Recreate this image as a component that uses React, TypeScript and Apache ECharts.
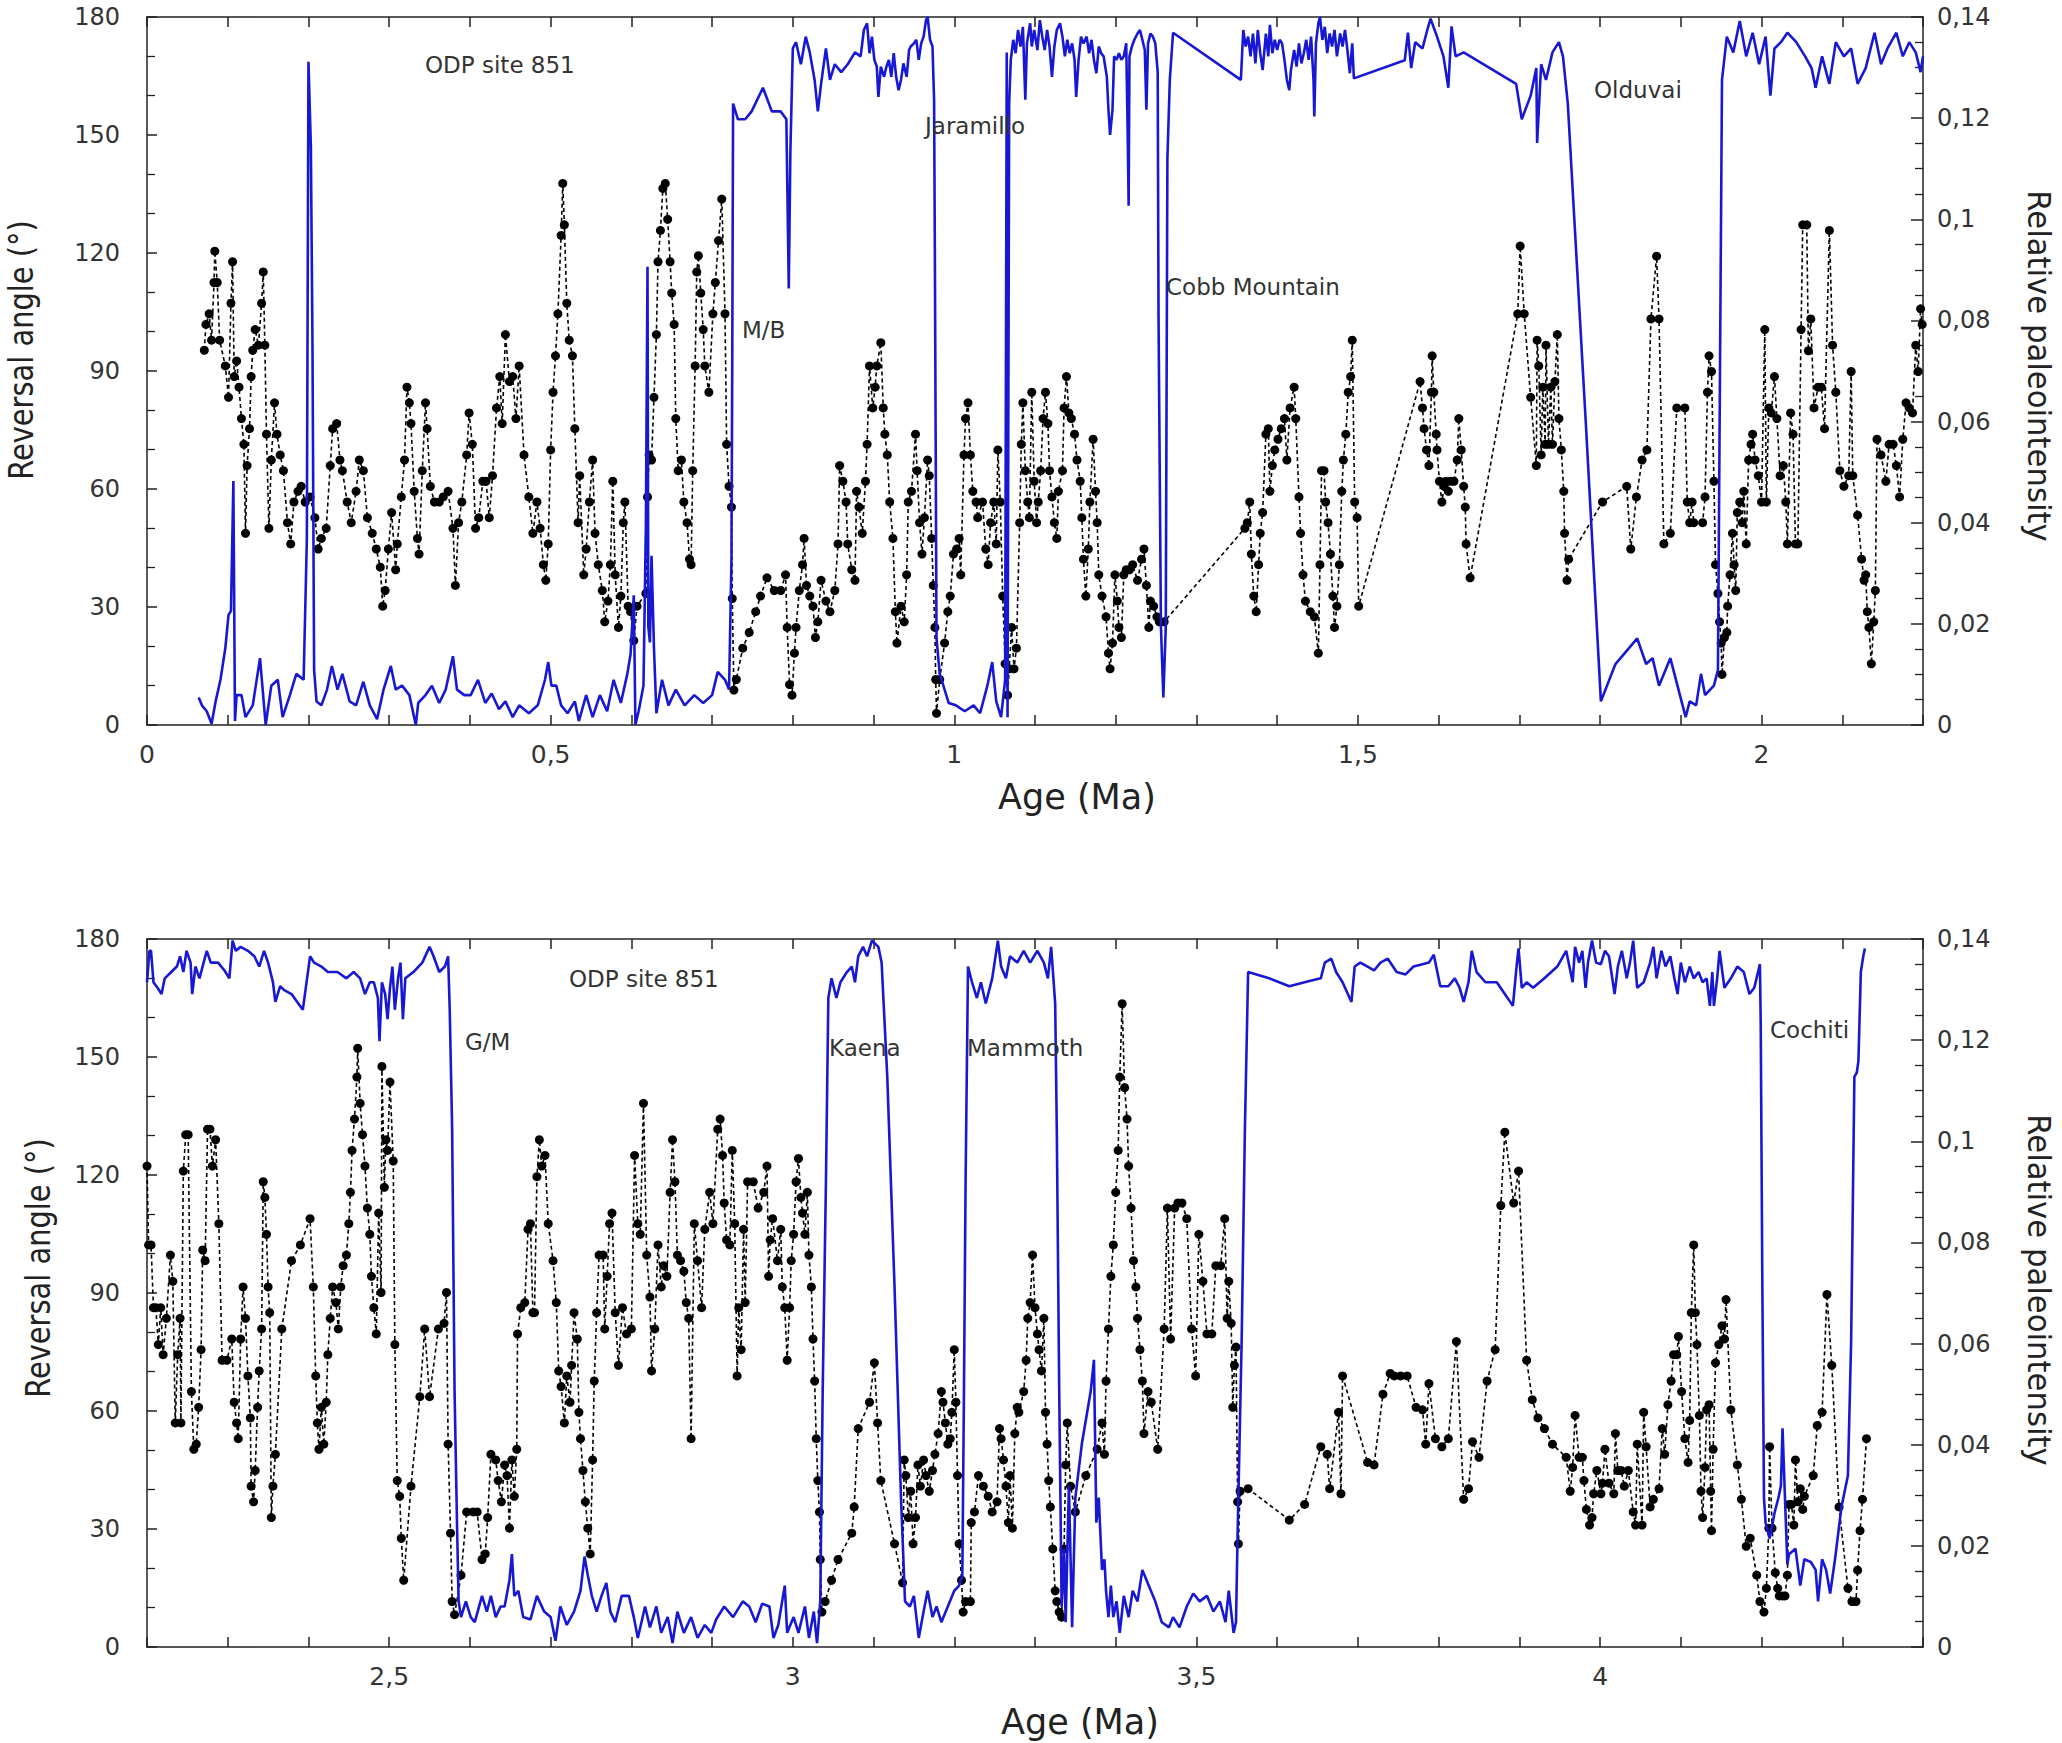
import React, { useEffect, useRef } from "react";
import * as echarts from "echarts";

// ---------- DATA ----------
const topAgeRange = [0, 2.2];
const bottomAgeRange = [2.2, 4.4];
const angleRange = [0, 180];
const intensityRange = [0, 0.14];

// reversal angle (deg) vs age (Ma), top panel
const topAngle: [number, number][] = [
  [0.064,7],[0.068,5],[0.074,3.5],[0.080,0.3],[0.085,6],[0.091,11.5],[0.097,19.5],[0.101,28],[0.104,29],[0.107,62],[0.109,1],[0.111,7.6],[0.117,7.6],[0.122,2],[0.131,5],[0.140,17],[0.147,0],[0.154,10],[0.162,11.5],[0.168,2],[0.177,7.6],[0.185,13],[0.194,11.5],[0.198,47],[0.200,168.6],[0.203,147],[0.205,96.5],[0.207,14],[0.210,6],[0.216,5],[0.223,9],[0.229,15],[0.236,9],[0.242,13],[0.251,6],[0.259,5],[0.268,11],[0.276,5],[0.285,1.5],[0.293,9],[0.302,15],[0.308,9],[0.316,10],[0.325,7.6],[0.333,0],[0.336,5.6],[0.345,7.6],[0.353,10],[0.362,5.6],[0.370,9],[0.379,17.5],[0.384,9],[0.393,7.6],[0.401,7.6],[0.410,11.5],[0.419,5.6],[0.427,8],[0.436,4],[0.444,6],[0.453,2],[0.461,5],[0.473,3],[0.484,5],[0.493,11.5],[0.497,16],[0.501,10],[0.507,10],[0.513,5],[0.521,3],[0.530,6],[0.535,1],[0.544,7.6],[0.552,2],[0.561,7.6],[0.570,3.5],[0.578,11.5],[0.587,5.6],[0.595,13],[0.599,18],[0.603,33],[0.605,0],[0.609,3.5],[0.615,10],[0.618,51],[0.620,116.5],[0.621,25],[0.623,21],[0.625,43],[0.628,19.5],[0.631,3],[0.638,11.5],[0.646,5],[0.655,9],[0.666,5],[0.678,7.6],[0.689,5.6],[0.700,7.6],[0.707,13.5],[0.716,11.5],[0.721,9],[0.724,42],[0.725,94],[0.726,158],[0.732,154],[0.741,154],[0.749,156],[0.763,162],[0.774,156],[0.785,156],[0.792,154],[0.795,111],[0.797,146],[0.800,172],[0.804,173.6],[0.810,168],[0.816,175],[0.821,171],[0.827,164],[0.831,156],[0.835,163],[0.841,172],[0.846,164],[0.852,168],[0.860,166],[0.868,168],[0.877,171],
  [0.884,170],[0.888,176.7],[0.892,178.4],[0.895,170.8],[0.898,175],[0.901,169.1],[0.904,167.4],[0.906,159.7],[0.909,167.4],[0.913,164.8],[0.916,167.4],[0.919,169.1],[0.922,164.8],[0.925,170.8],[0.928,164.8],[0.931,161.4],[0.934,164],[0.937,168.2],[0.941,164.8],[0.944,171.6],[0.946,172.5],[0.950,173.3],[0.953,174.2],[0.956,169.1],[0.959,173.3],[0.962,175],[0.965,179.2],[0.967,180],[0.970,174.2],[0.973,172.5],[0.975,159],[0.976,118],[0.978,22],[0.982,13],[0.988,9],[0.993,5.6],[1.002,5],[1.013,3.5],[1.024,5],[1.032,3],[1.041,10],[1.047,16],[1.052,6],[1.058,2],[1.063,11.5],[1.065,171],[1.066,2],[1.068,158],
  [1.070,169.1],[1.073,174.2],[1.076,170.8],[1.079,176.7],[1.082,172.5],[1.085,177.5],[1.088,159],[1.090,173.3],[1.094,178.4],[1.096,172.5],[1.099,176.7],[1.103,171.6],[1.106,179.2],[1.109,175],[1.112,171.6],[1.115,176.7],[1.118,172.5],[1.121,164.8],[1.124,172.5],[1.127,176.7],[1.131,178.4],[1.134,175],[1.137,170],[1.140,174.2],[1.143,170.8],[1.146,173.3],[1.149,169.1],[1.151,159.7],[1.154,169.1],[1.157,175],[1.160,173.3],[1.164,175],[1.167,170.8],[1.170,174.2],[1.173,169.1],[1.176,165.7],[1.179,172.5],[1.182,170.8],[1.185,170],[1.189,164.8],[1.191,156.4],[1.193,150],[1.196,156.4],[1.198,170],[1.201,169.1],[1.204,170.8],[1.207,169.1],[1.210,170],[1.213,173.3],[1.215,147.9],[1.216,132],[1.217,170],[1.220,172.5],[1.223,174.2],[1.227,175.8],[1.230,176.7],[1.233,174.2],[1.236,171.6],[1.238,156.4],[1.240,173.3],[1.243,175.8],[1.246,175],[1.249,173.3],[1.252,166],[1.253,104.5],[1.256,25],[1.259,7],[1.262,25],[1.264,144],[1.267,164],[1.271,176],
  [1.355,164],[1.358,176.7],[1.361,172.5],[1.364,175],[1.367,170],[1.370,175.8],[1.373,168.2],[1.376,176.7],[1.379,170.8],[1.382,166.5],[1.386,175.8],[1.389,170],[1.391,178],[1.394,170.8],[1.397,174.2],[1.400,171.6],[1.403,174.2],[1.406,173.3],[1.409,169.1],[1.412,164],[1.415,161.4],[1.417,166.5],[1.421,171.6],[1.424,167.4],[1.427,173.3],[1.430,168.2],[1.433,170.8],[1.436,174.2],[1.439,169.1],[1.442,175],[1.445,164],[1.446,154.7],[1.448,173.3],[1.451,178.4],[1.453,180],[1.456,174.2],[1.459,177.5],[1.462,170.8],[1.465,175.8],[1.468,172.5],[1.471,176.7],[1.474,170],[1.478,175.8],[1.481,172.5],[1.484,176.7],[1.487,171.6],[1.490,165.7],[1.493,173.3],[1.495,164.4],[1.558,169],[1.562,176],[1.566,167],[1.571,173.6],[1.580,172],[1.585,176],[1.590,179.6],[1.598,175],[1.606,170],[1.612,162],[1.616,177.6],[1.621,170],[1.631,171],[1.696,163],[1.703,154],[1.714,160],[1.721,167],[1.722,148],[1.727,168],[1.733,164],[1.741,171],[1.749,173.6],[1.754,170],[1.760,158],[1.782,78],[1.801,6],[1.819,15.5],[1.846,22],[1.857,15.5],[1.865,17],[1.873,10],[1.887,17],[1.906,2],[1.911,6],[1.919,5],[1.925,13],[1.930,7.6],[1.941,10],[1.946,14],[1.949,104.5],[1.951,164],[1.957,175],[1.965,171],[1.973,179],[1.981,170],[1.989,176],[1.997,168],[2.005,175],[2.011,160],[2.016,172],[2.024,173.6],[2.032,176],[2.043,173.6],[2.054,170],[2.062,167],[2.067,162],[2.075,170],[2.084,163],[2.092,173.6],[2.102,170],[2.111,172],[2.119,163],[2.129,167],[2.140,176],[2.148,168],[2.156,172],[2.167,176],[2.175,170],[2.183,173.6],[2.191,171],[2.197,166],[2.200,170]
];

// relative paleointensity vs age (Ma), top panel
const topIntensity: [number, number][] = [
  [0.071,0.0741],[0.073,0.0792],[0.077,0.0813],[0.080,0.0761],[0.083,0.0875],[0.084,0.0937],[0.087,0.0875],[0.090,0.0761],[0.097,0.0710],[0.101,0.0648],[0.104,0.0834],[0.106,0.0916],[0.108,0.0689],[0.111,0.0720],[0.114,0.0668],[0.117,0.0606],[0.120,0.0555],[0.122,0.0379],[0.124,0.0513],[0.127,0.0586],[0.129,0.0689],[0.131,0.0741],[0.134,0.0782],[0.138,0.0751],[0.142,0.0834],[0.144,0.0896],[0.146,0.0751],[0.148,0.0575],[0.151,0.0389],[0.154,0.0524],[0.158,0.0637],[0.161,0.0575],[0.165,0.0534],[0.169,0.0503],[0.174,0.0400],[0.178,0.0358],[0.182,0.0441],[0.187,0.0462],[0.191,0.0472],[0.196,0.0441],[0.202,0.0451],[0.208,0.0410],[0.212,0.0348],[0.216,0.0369],[0.222,0.0389],[0.227,0.0513],[0.230,0.0586],[0.235,0.0596],[0.239,0.0524],[0.242,0.0503],[0.248,0.0441],[0.253,0.0400],[0.259,0.0462],[0.263,0.0524],[0.268,0.0503],[0.273,0.0410],[0.279,0.0379],[0.284,0.0348],[0.289,0.0312],[0.292,0.0235],[0.295,0.0266],[0.299,0.0348],[0.303,0.0420],[0.308,0.0307],[0.310,0.0358],[0.315,0.0451],[0.319,0.0524],[0.322,0.0668],[0.325,0.0637],[0.327,0.0596],[0.331,0.0462],[0.335,0.0369],[0.337,0.0338],[0.341,0.0503],[0.345,0.0637],[0.347,0.0586],[0.351,0.0472],[0.356,0.0441],[0.362,0.0441],[0.367,0.0451],[0.373,0.0462],[0.379,0.0389],[0.382,0.0276],[0.386,0.0400],[0.390,0.0441],[0.396,0.0534],[0.399,0.0617],[0.403,0.0555],[0.407,0.0389],[0.411,0.0410],[0.416,0.0482],[0.420,0.0482],[0.424,0.0410],[0.428,0.0493],[0.433,0.0627],[0.437,0.0689],[0.440,0.0596],[0.444,0.0772],[0.449,0.0679],[0.453,0.0689],[0.457,0.0606],[0.461,0.0710],[0.467,0.0534],[0.473,0.0451],[0.478,0.0379],[0.483,0.0441],[0.487,0.0389],[0.491,0.0317],[0.494,0.0286],[0.497,0.0358],[0.500,0.0544],[0.503,0.0658],[0.506,0.0730],[0.509,0.0813],[0.513,0.0968],[0.515,0.1071],[0.517,0.0989],[0.520,0.0834],[0.523,0.0761],[0.527,0.0730],[0.530,0.0586],[0.534,0.0400],[0.536,0.0493],[0.541,0.0297],[0.544,0.0348],[0.548,0.0441],[0.552,0.0524],[0.555,0.0379],[0.559,0.0317],[0.564,0.0266],[0.567,0.0204],[0.571,0.0245],[0.574,0.0317],[0.577,0.0482],[0.580,0.0297],[0.584,0.0193],[0.587,0.0255],[0.590,0.0400],[0.592,0.0441],[0.596,0.0235],[0.599,0.0224],[0.603,0.0167],[0.607,0.0235],[0.618,0.0260],[0.620,0.0451],[0.622,0.0534],[0.625,0.0524],[0.628,0.0648],[0.631,0.0772],[0.633,0.0916],[0.636,0.0978],[0.639,0.1061],[0.642,0.1071],[0.645,0.1000],[0.648,0.0916],[0.650,0.0854],[0.653,0.0792],[0.655,0.0606],[0.658,0.0503],[0.662,0.0524],[0.665,0.0441],[0.669,0.0400],[0.672,0.0328],[0.674,0.0317],[0.676,0.0503],[0.679,0.0710],[0.681,0.0896],[0.683,0.0928],[0.686,0.0854],[0.689,0.0782],
  [0.691,0.0710],[0.696,0.0658],[0.701,0.0813],[0.704,0.0875],[0.708,0.0958],[0.712,0.1040],[0.716,0.0813],[0.718,0.0555],[0.721,0.0472],[0.724,0.0431],[0.725,0.0250],[0.727,0.0069],[0.730,0.0090],[0.738,0.0152],[0.746,0.0183],[0.754,0.0224],[0.760,0.0255],[0.768,0.0291],[0.777,0.0266],[0.785,0.0266],[0.791,0.0297],[0.793,0.0193],[0.796,0.0080],[0.799,0.0059],[0.802,0.0142],[0.804,0.0193],[0.808,0.0266],[0.812,0.0317],[0.814,0.0369],[0.817,0.0276],[0.821,0.0255],[0.825,0.0235],[0.828,0.0173],[0.831,0.0204],[0.835,0.0286],[0.841,0.0245],[0.846,0.0224],[0.852,0.0266],[0.856,0.0358],[0.858,0.0513],[0.862,0.0482],[0.866,0.0441],[0.868,0.0358],[0.873,0.0307],[0.877,0.0286],[0.879,0.0462],[0.882,0.0431],[0.886,0.0379],[0.890,0.0482],[0.892,0.0555],[0.895,0.0710],[0.899,0.0627],[0.902,0.0668],[0.904,0.0710],[0.909,0.0756],[0.912,0.0627],[0.914,0.0575],[0.917,0.0534],[0.920,0.0441],[0.924,0.0369],[0.927,0.0224],[0.929,0.0162],[0.934,0.0235],[0.938,0.0204],[0.941,0.0297],[0.943,0.0441],[0.947,0.0462],[0.952,0.0575],[0.954,0.0503],[0.957,0.0400],[0.960,0.0338],[0.963,0.0410],[0.967,0.0524],[0.969,0.0493],[0.972,0.0369],[0.974,0.0276],[0.976,0.0193],[0.977,0.0090],[0.978,0.0023],[0.982,0.0090],[0.988,0.0162],[0.992,0.0224],[0.995,0.0255],[0.999,0.0338],[1.003,0.0348],[1.006,0.0369],[1.008,0.0297],[1.012,0.0534],[1.014,0.0606],[1.017,0.0637],[1.020,0.0534],[1.023,0.0462],[1.027,0.0441],[1.029,0.0410],[1.035,0.0441],[1.039,0.0348],[1.042,0.0317],[1.045,0.0400],[1.049,0.0441],[1.052,0.0358],[1.054,0.0544],[1.057,0.0441],[1.060,0.0255],[1.063,0.0121],[1.066,0.0059],[1.068,0.0111],[1.071,0.0193],[1.074,0.0111],[1.077,0.0152],[1.081,0.0400],[1.083,0.0555],[1.085,0.0637],[1.088,0.0503],[1.091,0.0441],[1.093,0.0410],[1.096,0.0658],[1.099,0.0482],[1.102,0.0400],[1.104,0.0441],[1.107,0.0503],[1.110,0.0606],[1.113,0.0658],[1.116,0.0596],[1.118,0.0503],[1.121,0.0451],[1.124,0.0400],[1.127,0.0369],[1.129,0.0462],[1.134,0.0503],[1.136,0.0627],[1.139,0.0689],[1.142,0.0617],[1.145,0.0606],[1.149,0.0575],[1.152,0.0524],[1.156,0.0482],[1.158,0.0410],[1.160,0.0328],[1.163,0.0255],[1.166,0.0348],[1.168,0.0441],[1.172,0.0565],[1.175,0.0462],[1.177,0.0400],[1.179,0.0297],[1.183,0.0255],[1.188,0.0214],[1.191,0.0142],[1.193,0.0111],[1.196,0.0162],[1.199,0.0297],[1.202,0.0245],[1.204,0.0193],[1.207,0.0173],[1.210,0.0297],[1.213,0.0307],[1.217,0.0307],[1.221,0.0317],[1.227,0.0286],[1.232,0.0328],[1.235,0.0348],[1.238,0.0276],[1.241,0.0193],[1.243,0.0245],[1.247,0.0235],[1.251,0.0214],[1.254,0.0204],[1.260,0.0204],[1.360,0.0389],[1.363,0.0400],[1.366,0.0441],[1.368,0.0338],[1.371,0.0255],[1.374,0.0224],[1.377,0.0317],[1.379,0.0379],[1.382,0.0420],[1.386,0.0575],[1.389,0.0586],[1.391,0.0462],[1.394,0.0513],[1.397,0.0544],[1.401,0.0565],[1.405,0.0586],[1.409,0.0606],[1.412,0.0524],[1.416,0.0627],[1.421,0.0668],[1.423,0.0606],[1.427,0.0451],[1.429,0.0379],[1.432,0.0297],[1.435,0.0245],[1.441,0.0224],[1.446,0.0214],[1.451,0.0142],[1.453,0.0317],[1.455,0.0503],[1.458,0.0503],[1.460,0.0441],[1.463,0.0400],[1.466,0.0338],[1.469,0.0255],[1.471,0.0193],[1.474,0.0235],[1.477,0.0317],[1.480,0.0462],[1.482,0.0524],[1.485,0.0575],[1.488,0.0658],[1.491,0.0689],[1.493,0.0761],[1.496,0.0441],[1.499,0.0410],[1.501,0.0235],
  [1.577,0.0679],[1.580,0.0627],[1.582,0.0586],[1.585,0.0544],[1.588,0.0513],[1.591,0.0658],[1.592,0.0730],[1.594,0.0658],[1.597,0.0575],[1.598,0.0544],[1.601,0.0482],[1.604,0.0441],[1.607,0.0472],[1.609,0.0482],[1.612,0.0462],[1.615,0.0482],[1.619,0.0482],[1.623,0.0524],[1.625,0.0606],[1.628,0.0544],[1.631,0.0472],[1.633,0.0431],[1.634,0.0358],[1.639,0.0291],[1.698,0.0813],[1.701,0.0947],[1.706,0.0813],[1.714,0.0648],[1.721,0.0513],[1.722,0.0761],[1.724,0.0710],[1.727,0.0534],[1.729,0.0668],[1.732,0.0555],[1.733,0.0751],[1.736,0.0555],[1.739,0.0668],[1.741,0.0555],[1.744,0.0679],[1.747,0.0772],[1.749,0.0606],[1.752,0.0544],[1.755,0.0462],[1.756,0.0379],[1.759,0.0286],[1.761,0.0328],[1.803,0.0441],[1.833,0.0472],[1.838,0.0348],[1.845,0.0451],[1.852,0.0524],[1.858,0.0544],[1.863,0.0803],[1.870,0.0927],[1.873,0.0803],[1.879,0.0358],[1.887,0.0379],[1.895,0.0627],[1.905,0.0627],[1.908,0.0441],[1.911,0.0400],[1.914,0.0441],[1.916,0.0400],[1.927,0.0400],[1.930,0.0451],[1.933,0.0658],[1.935,0.0730],[1.938,0.0699],[1.941,0.0482],[1.943,0.0317],[1.946,0.0260],[1.948,0.0204],[1.950,0.0162],[1.951,0.0100],[1.954,0.0173],[1.957,0.0183],[1.958,0.0235],[1.961,0.0297],[1.964,0.0379],[1.966,0.0317],[1.968,0.0266],[1.970,0.0420],[1.973,0.0441],[1.976,0.0400],[1.978,0.0462],[1.981,0.0358],[1.984,0.0524],[1.987,0.0555],[1.989,0.0575],[1.992,0.0524],[1.996,0.0493],[2.000,0.0441],[2.004,0.0782],[2.006,0.0441],[2.009,0.0627],[2.012,0.0617],[2.016,0.0689],[2.019,0.0606],[2.023,0.0493],[2.027,0.0513],[2.030,0.0441],[2.032,0.0358],[2.036,0.0617],[2.039,0.0575],[2.042,0.0358],[2.045,0.0358],[2.049,0.0782],[2.051,0.0989],[2.056,0.0989],[2.058,0.0740],[2.061,0.0803],[2.065,0.0627],[2.070,0.0668],[2.074,0.0668],[2.078,0.0586],[2.084,0.0978],[2.088,0.0751],[2.092,0.0658],[2.097,0.0503],[2.102,0.0472],[2.108,0.0493],[2.111,0.0699],[2.113,0.0493],[2.119,0.0415],[2.124,0.0328],[2.127,0.0286],[2.129,0.0297],[2.131,0.0224],[2.133,0.0193],[2.136,0.0121],[2.139,0.0204],[2.141,0.0266],[2.143,0.0565],[2.148,0.0534],[2.154,0.0482],[2.158,0.0555],[2.163,0.0555],[2.167,0.0513],[2.171,0.0451],[2.175,0.0565],[2.179,0.0637],[2.183,0.0627],[2.187,0.0617],[2.191,0.0751],[2.194,0.0699],[2.197,0.0823],[2.199,0.0792]
];

// reversal angle (deg) vs age (Ma), bottom panel
const bottomAngle: [number, number][] = [
  [2.200,169],[2.203,177],[2.205,177],[2.208,169],[2.213,167.6],[2.218,166],[2.222,170],[2.230,171.6],[2.237,173],[2.241,175.6],[2.245,171.6],[2.249,177],[2.254,174],[2.256,166],[2.260,173],[2.265,170],[2.274,177],[2.279,174],[2.288,174],[2.296,172],[2.302,170],[2.306,179.6],[2.310,177],[2.316,178],[2.325,177],[2.333,175.6],[2.339,173],[2.345,177],[2.350,174],[2.356,169],[2.359,164],[2.365,168],[2.370,167],[2.379,166],[2.393,162],[2.402,175.6],[2.407,174],[2.416,173],[2.424,171.6],[2.436,171.6],[2.447,170],[2.456,171.6],[2.464,170],[2.470,166],[2.476,169],[2.481,169],[2.486,165],[2.488,154],[2.491,169],[2.495,166],[2.498,159.6],[2.501,167.6],[2.504,173],[2.507,162],[2.511,170],[2.514,174],[2.517,159.6],[2.520,170],[2.530,171.6],[2.541,174],[2.550,178],[2.555,175.6],[2.562,171.6],[2.569,173],[2.573,175.6],[2.575,162],[2.578,131.6],[2.581,65],[2.584,31.6],[2.586,11.6],[2.589,7.6],[2.595,11.6],[2.601,7.6],[2.606,6.3],[2.615,13],[2.621,9],[2.626,13],[2.632,7.6],[2.638,10.3],[2.643,10.3],[2.649,17],[2.652,23.6],[2.655,13],[2.660,14.3],[2.666,7.6],[2.675,7],[2.683,13],[2.692,9],[2.700,7.6],[2.706,1.6],[2.712,10.3],[2.720,5.6],[2.729,9],[2.737,14.3],[2.742,23],[2.746,18.3],[2.751,13],[2.757,9],[2.763,13],[2.769,16.3],[2.774,9],[2.780,6.3],[2.788,13],[2.797,13],[2.803,7.6],[2.808,2.3],[2.817,10.3],[2.823,5],[2.831,10.3],[2.837,3.6],[2.845,7.6],[2.851,1],[2.857,9],[2.865,3.6],[2.874,7.6],[2.882,2.3],[2.891,5.6],[2.899,3.6],[2.905,7],
  [2.915,10.3],[2.926,7.6],[2.938,11.6],[2.946,10.3],[2.954,6.3],[2.962,11],[2.971,10.3],[2.976,2.3],[2.982,5.6],[2.990,15.6],[2.993,3.6],[3.001,7.6],[3.007,3.6],[3.015,10.3],[3.020,2.3],[3.026,9],[3.030,1],[3.034,11.6],[3.037,65],[3.041,118],[3.044,165],[3.048,170],[3.054,165],[3.059,169],[3.067,171.6],[3.073,173],[3.077,169],[3.081,175.6],[3.087,178],[3.092,175.6],[3.098,179.6],[3.106,178],[3.110,174],[3.117,145],[3.126,91.6],[3.134,38],[3.139,11.6],[3.145,10.3],[3.150,13],[3.156,2.3],[3.162,9],[3.167,14.3],[3.173,7.6],[3.178,10.3],[3.184,6.3],[3.192,10.3],[3.200,14.3],[3.206,15.6],[3.210,18.3],[3.212,65],[3.214,118],[3.217,173],[3.222,169],[3.228,165],[3.233,169],[3.239,163.6],[3.247,170],[3.254,179.6],[3.258,173],[3.264,170],[3.269,175.6],[3.278,174],[3.286,177],[3.294,174],[3.303,177],[3.311,174],[3.316,170],[3.320,178],[3.325,163.6],[3.327,131.6],[3.330,65],[3.333,10.3],[3.336,25],[3.338,6.3],[3.342,41],[3.346,5],[3.350,38],[3.358,51.6],[3.369,65],[3.373,73],[3.376,31.6],[3.379,38],[3.383,19.6],[3.386,22.3],[3.388,14.3],[3.391,7.6],[3.394,15.6],[3.397,7.6],[3.401,11.6],[3.405,3.6],[3.410,13],[3.416,7.6],[3.421,14.3],[3.427,11.6],[3.433,19.6],[3.441,15.6],[3.449,11.6],[3.457,6.3],[3.466,5],[3.471,7.6],[3.479,5],[3.488,10.3],[3.496,13.6],[3.504,11.6],[3.513,13],[3.521,9],[3.529,11.6],[3.536,6.3],[3.540,14.3],[3.546,3.6],[3.549,6.3],[3.551,29],[3.556,78],[3.560,131.6],[3.564,171.6],[3.590,170],[3.615,168],[3.640,169.3],[3.654,170],[3.659,174],[3.667,175],[3.673,171.6],[3.681,169],[3.692,164],[3.696,173],[3.703,174],[3.712,173],[3.720,172],[3.728,174],[3.737,175],
  [3.748,171.6],[3.759,171],[3.769,173],[3.780,173.6],[3.788,174],[3.794,176],[3.802,168],[3.812,168],[3.820,170],[3.826,167.6],[3.831,164],[3.837,169],[3.841,177],[3.847,171.6],[3.858,169],[3.872,169],[3.882,166],[3.892,163],[3.897,174],[3.899,177.6],[3.903,167.6],[3.909,169],[3.917,167.6],[3.931,170],[3.947,173],[3.958,177],[3.962,173],[3.966,169],[3.969,178],[3.974,174],[3.978,177],[3.982,167.6],[3.985,174],[3.990,179.6],[3.995,174],[4.001,173.6],[4.006,177],[4.011,175.6],[4.018,166],[4.022,173],[4.027,177],[4.033,170],[4.037,174],[4.041,179.6],[4.046,167.6],[4.054,169],[4.062,174],[4.066,178],[4.070,170],[4.076,177],[4.081,173],[4.087,175.6],[4.092,170],[4.096,166],[4.100,174],[4.105,169],[4.111,173],[4.116,170],[4.122,171.6],[4.127,169],[4.132,170],[4.136,163],[4.139,171.6],[4.141,163],[4.145,170],[4.148,177],[4.154,167.6],[4.162,170],[4.170,173],[4.178,171.6],[4.185,166],[4.191,167.6],[4.198,173.6],[4.199,158],[4.201,91.6],[4.203,38],[4.205,31.6],[4.210,27.6],[4.216,34],[4.221,38],[4.224,41],[4.226,55.6],[4.229,38],[4.232,21],[4.234,23.6],[4.242,25],[4.248,15.6],[4.253,22.3],[4.261,21.6],[4.267,19.6],[4.270,11.6],[4.275,22.3],[4.280,19.6],[4.285,13.6],[4.291,22.3],[4.299,35.6],[4.307,43.6],[4.311,78],[4.315,145],[4.318,146],[4.320,149],[4.323,171.6],[4.326,175.6],[4.328,177.6]
];

// relative paleointensity vs age (Ma), bottom panel
const bottomIntensity: [number, number][] = [
  [2.200,0.0951],[2.202,0.0795],[2.205,0.0795],[2.208,0.0671],[2.211,0.0671],[2.214,0.0598],[2.217,0.0671],[2.220,0.0578],[2.224,0.0650],[2.229,0.0775],[2.232,0.0723],[2.235,0.0443],[2.238,0.0578],[2.241,0.0650],[2.242,0.0443],[2.245,0.0941],[2.248,0.1013],[2.251,0.1013],[2.255,0.0505],[2.258,0.0391],[2.261,0.0401],[2.264,0.0474],[2.267,0.0588],[2.269,0.0785],[2.272,0.0764],[2.275,0.1024],[2.278,0.1024],[2.281,0.0951],[2.285,0.1003],[2.289,0.0837],[2.293,0.0567],[2.299,0.0567],[2.305,0.0609],[2.308,0.0484],[2.311,0.0443],[2.313,0.0412],[2.316,0.0609],[2.319,0.0712],[2.322,0.0650],[2.325,0.0536],[2.328,0.0453],[2.329,0.0318],[2.332,0.0287],[2.334,0.0349],[2.337,0.0474],[2.339,0.0546],[2.342,0.0629],[2.344,0.0920],[2.346,0.0889],[2.348,0.0816],[2.350,0.0712],[2.352,0.0661],[2.354,0.0256],[2.356,0.0318],[2.359,0.0381],[2.367,0.0629],[2.379,0.0764],[2.390,0.0795],[2.402,0.0847],[2.406,0.0712],[2.409,0.0536],[2.411,0.0443],[2.413,0.0391],[2.416,0.0474],[2.419,0.0401],[2.422,0.0484],[2.424,0.0578],[2.427,0.0650],[2.430,0.0712],[2.434,0.0681],[2.437,0.0629],[2.440,0.0712],[2.443,0.0754],[2.447,0.0775],[2.450,0.0837],[2.452,0.0899],[2.454,0.0982],[2.457,0.1044],[2.460,0.1127],[2.461,0.1184],[2.464,0.1075],[2.467,0.1013],[2.470,0.0951],[2.473,0.0868],[2.476,0.0816],[2.478,0.0733],[2.481,0.0671],[2.484,0.0619],[2.487,0.0858],[2.490,0.0701],[2.491,0.1148],[2.494,0.0909],[2.496,0.1003],[2.498,0.0982],[2.501,0.1117],[2.505,0.0961],[2.507,0.0598],[2.510,0.0329],[2.513,0.0298],[2.515,0.0215],[2.518,0.0132],[2.527,0.0318],[2.538,0.0495],[2.544,0.0629],[2.550,0.0495],[2.561,0.0629],[2.568,0.0640],[2.571,0.0701],[2.573,0.0401],[2.576,0.0225],[2.578,0.0090],[2.581,0.0064],[2.589,0.0142],[2.596,0.0267],[2.604,0.0267],[2.609,0.0267],[2.615,0.0173],[2.619,0.0184],[2.622,0.0256],[2.626,0.0381],[2.632,0.0370],[2.635,0.0329],[2.639,0.0287],[2.643,0.0360],[2.646,0.0339],[2.649,0.0235],[2.652,0.0370],[2.655,0.0298],[2.658,0.0391],[2.659,0.0619],[2.663,0.0671],[2.668,0.0681],[2.672,0.0826],[2.675,0.0837],[2.678,0.0661],[2.680,0.0661],[2.683,0.0930],[2.686,0.1003],[2.689,0.0951],[2.693,0.0972],[2.697,0.0837],[2.703,0.0764],[2.707,0.0681],[2.710,0.0546],[2.713,0.0515],[2.717,0.0443],[2.720,0.0536],[2.724,0.0484],[2.726,0.0557],[2.729,0.0661],[2.733,0.0609],[2.735,0.0464],[2.737,0.0412],[2.740,0.0349],[2.743,0.0287],[2.746,0.0235],[2.749,0.0184],[2.752,0.0370],[2.754,0.0526],[2.757,0.0661],[2.760,0.0775],[2.765,0.0775],[2.767,0.0629],[2.770,0.0733],[2.773,0.0837],[2.776,0.0858],[2.780,0.0661],[2.784,0.0557],[2.789,0.0671],[2.794,0.0619],[2.800,0.0629],[2.804,0.0972],[2.808,0.0837],[2.811,0.0816],[2.815,0.1075],[2.819,0.0775],[2.823,0.0692],[2.825,0.0546],[2.829,0.0629],[2.833,0.0795],[2.837,0.0712],[2.840,0.0754],[2.844,0.0733],[2.848,0.0899],[2.851,0.1003],[2.854,0.0920],[2.857,0.0775],[2.861,0.0764],[2.865,0.0743],[2.868,0.0681],[2.871,0.0650],[2.874,0.0412],[2.878,0.0837],[2.882,0.0764],[2.887,0.0671],[2.891,0.0826],[2.897,0.0899],[2.901,0.0837],
  [2.907,0.1024],[2.910,0.1044],[2.913,0.0972],[2.915,0.0878],[2.918,0.0805],[2.922,0.0795],[2.925,0.0982],[2.928,0.0837],[2.931,0.0536],[2.933,0.0671],[2.936,0.0588],[2.939,0.0826],[2.941,0.0681],[2.944,0.0920],[2.951,0.0920],[2.957,0.0868],[2.964,0.0899],[2.968,0.0951],[2.970,0.0733],[2.972,0.0805],[2.975,0.0847],[2.981,0.0764],[2.985,0.0826],[2.987,0.0712],[2.990,0.0671],[2.993,0.0567],[2.996,0.0671],[2.998,0.0764],[3.001,0.0816],[3.004,0.0920],[3.007,0.0966],[3.010,0.0889],[3.012,0.0858],[3.015,0.0816],[3.018,0.0899],[3.020,0.0775],[3.023,0.0712],[3.025,0.0609],[3.027,0.0526],[3.029,0.0412],[3.031,0.0329],[3.033,0.0267],[3.034,0.0173],[3.036,0.0069],[3.040,0.0090],[3.048,0.0132],[3.056,0.0173],[3.073,0.0225],[3.076,0.0277],[3.081,0.0432],[3.095,0.0484],[3.101,0.0562],[3.105,0.0443],[3.109,0.0329],[3.126,0.0204],[3.136,0.0127],[3.138,0.0370],[3.140,0.0339],[3.143,0.0256],[3.146,0.0308],[3.149,0.0204],[3.152,0.0256],[3.155,0.0360],[3.158,0.0318],[3.162,0.0370],[3.165,0.0339],[3.169,0.0308],[3.173,0.0349],[3.176,0.0381],[3.180,0.0422],[3.184,0.0505],[3.186,0.0484],[3.189,0.0443],[3.192,0.0401],[3.195,0.0412],[3.197,0.0464],[3.200,0.0588],[3.202,0.0484],[3.204,0.0339],[3.206,0.0204],[3.209,0.0132],[3.211,0.0069],[3.214,0.0090],[3.220,0.0090],[3.221,0.0246],[3.225,0.0267],[3.230,0.0339],[3.236,0.0318],[3.242,0.0298],[3.247,0.0267],[3.253,0.0287],[3.256,0.0432],[3.258,0.0412],[3.261,0.0370],[3.264,0.0318],[3.267,0.0246],[3.269,0.0339],[3.272,0.0235],[3.275,0.0422],[3.278,0.0474],[3.280,0.0464],[3.286,0.0505],[3.289,0.0567],[3.291,0.0650],[3.294,0.0681],[3.297,0.0775],[3.300,0.0671],[3.303,0.0619],[3.305,0.0588],[3.308,0.0546],[3.311,0.0650],[3.313,0.0464],[3.315,0.0401],[3.317,0.0329],[3.319,0.0277],[3.322,0.0194],[3.325,0.0111],[3.327,0.0090],[3.330,0.0069],[3.333,0.0059],[3.336,0.0194],[3.338,0.0360],[3.340,0.0443],[3.344,0.0318],[3.350,0.0267],[3.363,0.0339],[3.377,0.0391],[3.383,0.0443],[3.386,0.0381],[3.388,0.0526],[3.391,0.0629],[3.394,0.0733],[3.397,0.0795],[3.400,0.0899],[3.403,0.0982],[3.405,0.1127],[3.408,0.1272],[3.411,0.1106],[3.414,0.1044],[3.416,0.0951],[3.419,0.0868],[3.422,0.0764],[3.425,0.0712],[3.427,0.0650],[3.430,0.0588],[3.433,0.0526],[3.435,0.0422],[3.440,0.0505],[3.444,0.0484],[3.452,0.0391],[3.460,0.0629],[3.464,0.0868],[3.468,0.0609],[3.473,0.0868],[3.477,0.0878],[3.482,0.0878],[3.488,0.0847],[3.494,0.0629],[3.499,0.0536],[3.503,0.0816],[3.508,0.0723],[3.513,0.0619],[3.519,0.0619],[3.524,0.0754],[3.530,0.0754],[3.535,0.0847],[3.538,0.0650],[3.540,0.0723],[3.543,0.0640],[3.545,0.0474],[3.547,0.0557],[3.549,0.0593],[3.551,0.0287],[3.552,0.0204],[3.554,0.0308],[3.564,0.0313],[3.615,0.0251],[3.634,0.0282],[3.654,0.0396],[3.662,0.0381],[3.665,0.0313],[3.676,0.0464],[3.679,0.0303],[3.681,0.0536],[3.712,0.0365],[3.720,0.0360],[3.731,0.0500],[3.740,0.0541],
  [3.745,0.0536],[3.753,0.0536],[3.761,0.0536],[3.772,0.0474],[3.780,0.0469],[3.784,0.0401],[3.788,0.0521],[3.796,0.0412],[3.804,0.0396],[3.812,0.0412],[3.822,0.0604],[3.831,0.0292],[3.837,0.0313],[3.842,0.0406],[3.850,0.0375],[3.860,0.0526],[3.870,0.0588],[3.877,0.0873],[3.882,0.1018],[3.893,0.0878],[3.899,0.0941],[3.909,0.0567],[3.916,0.0489],[3.923,0.0453],[3.931,0.0432],[3.941,0.0401],[3.958,0.0375],[3.963,0.0308],[3.966,0.0355],[3.969,0.0458],[3.974,0.0375],[3.978,0.0375],[3.980,0.0329],[3.983,0.0272],[3.987,0.0241],[3.990,0.0256],[3.992,0.0303],[3.996,0.0349],[4.001,0.0303],[4.003,0.0324],[4.006,0.0391],[4.011,0.0324],[4.017,0.0303],[4.019,0.0422],[4.022,0.0349],[4.026,0.0349],[4.030,0.0318],[4.035,0.0349],[4.041,0.0267],[4.044,0.0241],[4.046,0.0401],[4.052,0.0241],[4.054,0.0464],[4.057,0.0396],[4.062,0.0277],[4.066,0.0292],[4.073,0.0313],[4.077,0.0432],[4.080,0.0381],[4.084,0.0479],[4.088,0.0526],[4.091,0.0578],[4.095,0.0578],[4.097,0.0614],[4.101,0.0505],[4.105,0.0412],[4.109,0.0365],[4.111,0.0448],[4.113,0.0661],[4.116,0.0795],[4.118,0.0661],[4.120,0.0598],[4.123,0.0458],[4.125,0.0308],[4.127,0.0256],[4.130,0.0355],[4.132,0.0469],[4.135,0.0479],[4.137,0.0308],[4.138,0.0230],[4.140,0.0391],[4.143,0.0562],[4.147,0.0598],[4.151,0.0635],[4.154,0.0609],[4.156,0.0687],[4.162,0.0469],[4.170,0.0360],[4.175,0.0292],[4.181,0.0199],[4.186,0.0215],[4.194,0.0142],[4.198,0.0090],[4.203,0.0069],[4.206,0.0116],[4.209,0.0235],[4.210,0.0396],[4.213,0.0235],[4.217,0.0147],[4.220,0.0116],[4.222,0.0101],[4.226,0.0101],[4.229,0.0101],[4.232,0.0142],[4.234,0.0282],[4.237,0.0282],[4.240,0.0241],[4.242,0.0370],[4.245,0.0287],[4.248,0.0313],[4.251,0.0272],[4.253,0.0298],[4.264,0.0339],[4.269,0.0438],[4.275,0.0464],[4.281,0.0697],[4.287,0.0557],[4.296,0.0277],[4.307,0.0116],[4.312,0.0090],[4.317,0.0090],[4.319,0.0152],[4.322,0.0230],[4.325,0.0292],[4.330,0.0412]
];

const topNotes = ["ODP site 851", "M/B", "Jaramillo", "Cobb Mountain", "Olduvai"];
const bottomNotes = ["ODP site 851", "G/M", "Kaena", "Mammoth", "Cochiti"];

// ---------- CHART ----------
const FONT = '"DejaVu Sans", Verdana, sans-serif';
const AXIS_COLOR = "#222";
const LABEL_COLOR = "#333";
const BLUE = "#1818d4";

const fmtAge = (v: number) => {
  const r = Math.round(v * 10);
  return r % 5 === 0 ? String(r / 10).replace(".", ",") : "";
};
const fmtInt = (v: number) => (v === 0 ? "0" : String(parseFloat(v.toFixed(3))).replace(".", ","));

function xAxes(gridIndex: number, range: number[]) {
  const base = {
    type: "value",
    gridIndex,
    min: range[0],
    max: range[1],
    interval: 0.1,
    splitLine: { show: false },
    axisLine: { show: true, onZero: false, lineStyle: { color: AXIS_COLOR, width: 1.5 } },
    axisTick: { show: true, inside: true, length: 10, lineStyle: { color: AXIS_COLOR, width: 1.5 } },
  };
  return [
    {
      ...base,
      position: "bottom",
      axisLabel: {
        show: true, margin: 17, formatter: fmtAge, color: LABEL_COLOR,
        fontFamily: FONT, fontSize: 25, hideOverlap: false,
      },
    },
    { ...base, position: "top", axisLabel: { show: false } },
  ];
}

function yAxes(gridIndex: number) {
  return [
    {
      type: "value", gridIndex, position: "left", min: angleRange[0], max: angleRange[1], interval: 30,
      splitLine: { show: false },
      axisLine: { show: true, onZero: false, lineStyle: { color: AXIS_COLOR, width: 1.5 } },
      axisTick: { show: true, inside: true, length: 10, lineStyle: { color: AXIS_COLOR, width: 1.5 } },
      minorTick: { show: true, splitNumber: 3, length: 8, lineStyle: { color: AXIS_COLOR, width: 1.3 } },
      minorSplitLine: { show: false },
      axisLabel: { margin: 27, color: LABEL_COLOR, fontFamily: FONT, fontSize: 24 },
    },
    {
      type: "value", gridIndex, position: "right", min: intensityRange[0], max: intensityRange[1], interval: 0.02,
      splitLine: { show: false },
      axisLine: { show: true, onZero: false, lineStyle: { color: AXIS_COLOR, width: 1.5 } },
      axisTick: { show: true, inside: true, length: 12, lineStyle: { color: AXIS_COLOR, width: 1.5 } },
      minorTick: { show: true, splitNumber: 4, length: 8, lineStyle: { color: AXIS_COLOR, width: 1.3 } },
      minorSplitLine: { show: false },
      axisLabel: { margin: 14, color: LABEL_COLOR, fontFamily: FONT, fontSize: 24, formatter: fmtInt },
    },
  ];
}

function intensitySeries(data: [number, number][], xi: number, yi: number) {
  return {
    type: "line", xAxisIndex: xi, yAxisIndex: yi, data,
    symbol: "circle", symbolSize: 9, showSymbol: true, silent: true,
    itemStyle: { color: "#000" },
    lineStyle: { color: "#000", width: 1.6, type: [4, 3] },
    z: 2,
  };
}
function angleSeries(data: [number, number][], xi: number, yi: number) {
  return {
    type: "line", xAxisIndex: xi, yAxisIndex: yi, data,
    symbol: "none", showSymbol: false, silent: true,
    lineStyle: { color: BLUE, width: 2.6 },
    z: 3,
  };
}

function note(text: string, x: number, y: number) {
  return {
    type: "text", x, y, z: 10,
    style: { text, font: `23px ${FONT}`, fill: "#333", align: "left", verticalAlign: "middle", textAlign: "left", textVerticalAlign: "middle" },
  };
}
function title(text: string, x: number, y: number, rotation: number, size: number, sx: number) {
  return {
    type: "text", x, y, rotation, scaleX: sx, z: 10,
    style: { text, font: `${size}px ${FONT}`, fill: "#222", align: "center", verticalAlign: "middle", textAlign: "center", textVerticalAlign: "middle" },
  };
}

export default function App() {
  const ref = useRef<HTMLDivElement>(null);
  useEffect(() => {
    if (!ref.current) return;
    const chart = echarts.init(ref.current, undefined, { renderer: "svg" });
    const option: any = {
      animation: false,
      backgroundColor: "#fff",
      grid: [
        { left: 147, top: 17, width: 1776, height: 708, containLabel: false, outerBoundsMode: "none" },
        { left: 147, top: 939, width: 1776, height: 708, containLabel: false, outerBoundsMode: "none" },
      ],
      xAxis: [...xAxes(0, topAgeRange), ...xAxes(1, bottomAgeRange)],
      yAxis: [...yAxes(0), ...yAxes(1)],
      series: [
        intensitySeries(topIntensity, 0, 1),
        angleSeries(topAngle, 0, 0),
        intensitySeries(bottomIntensity, 2, 3),
        angleSeries(bottomAngle, 2, 2),
      ],
      graphic: [
        note(topNotes[0], 425, 65),
        note(topNotes[1], 742, 330),
        note(topNotes[2], 925, 126),
        note(topNotes[3], 1166, 287),
        note(topNotes[4], 1594, 90),
        note(bottomNotes[0], 569, 979),
        note(bottomNotes[1], 465, 1042),
        note(bottomNotes[2], 829, 1048),
        note(bottomNotes[3], 967, 1048),
        note(bottomNotes[4], 1770, 1030),
        title("Reversal angle (°)", 21, 350, Math.PI / 2, 34, 0.85),
        title("Reversal angle (°)", 38, 1268, Math.PI / 2, 34, 0.85),
        title("Relative paleointensity", 2039, 366, -Math.PI / 2, 32, 0.96),
        title("Relative paleointensity", 2039, 1290, -Math.PI / 2, 32, 0.96),
        title("Age (Ma)", 1077, 797, 0, 35, 1),
        title("Age (Ma)", 1080, 1722, 0, 35, 1),
      ],
    };
    chart.setOption(option);
    return () => chart.dispose();
  }, []);
  return (
    <div
      ref={ref}
      style={{ position: "absolute", left: 0, top: 0, width: 2062, height: 1743, background: "#fff" }}
    />
  );
}
